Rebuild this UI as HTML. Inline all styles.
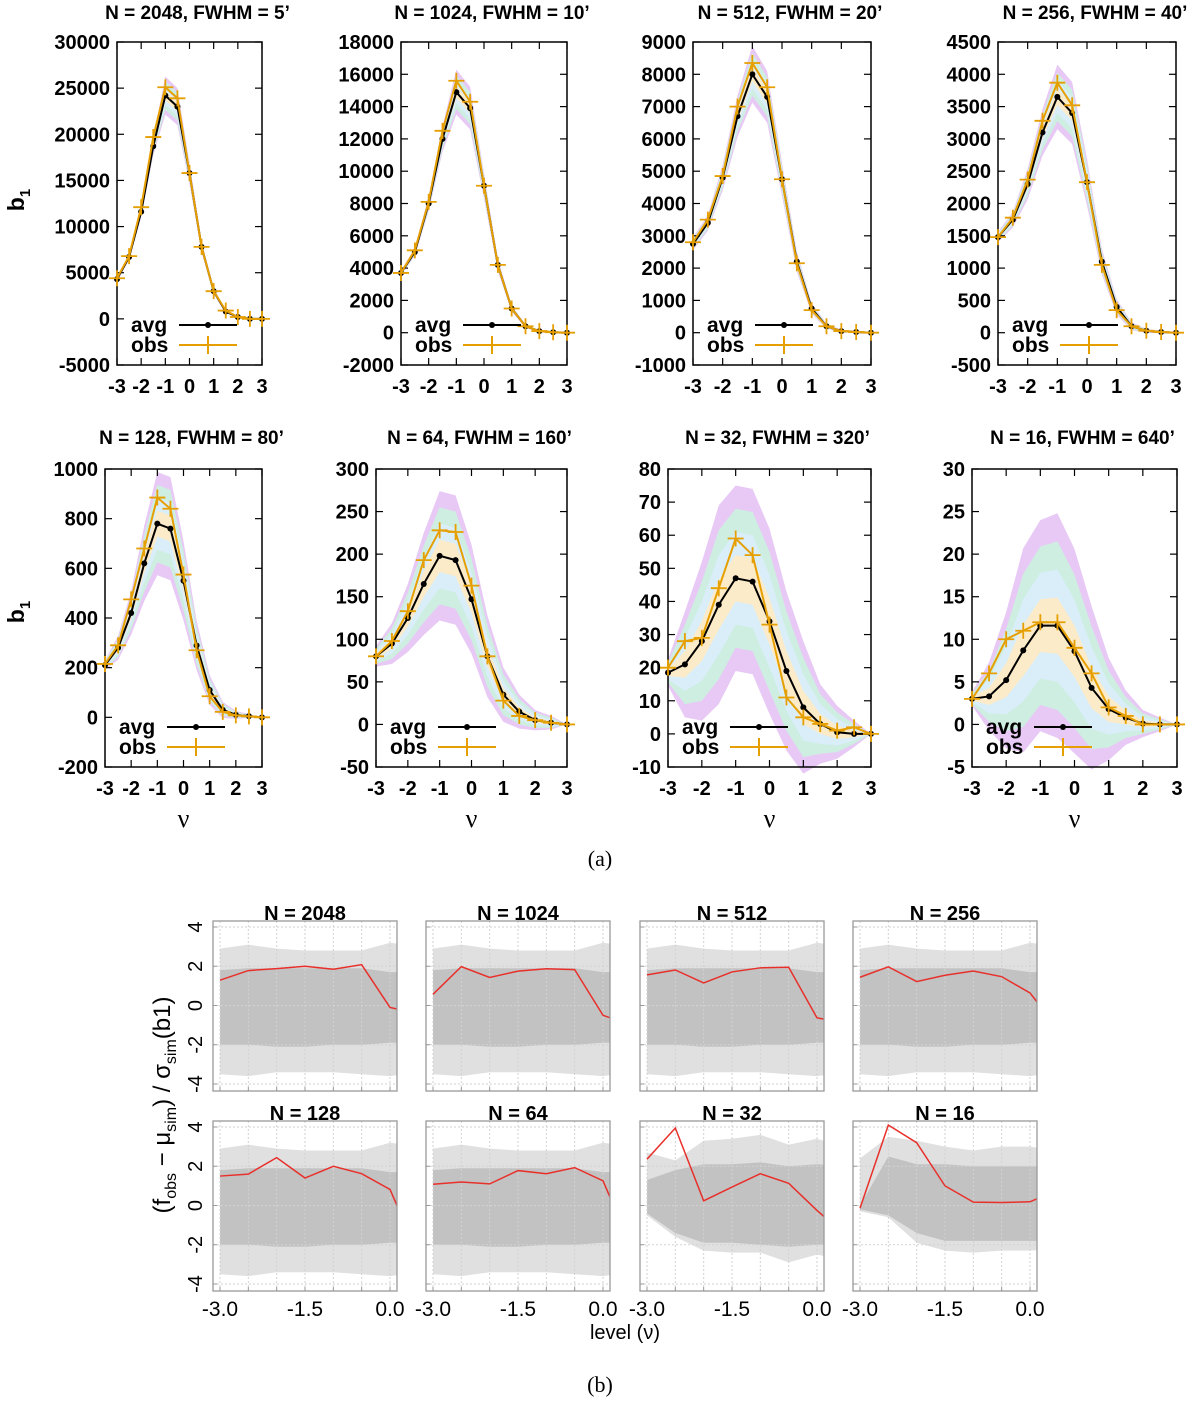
<!DOCTYPE html>
<html><head><meta charset="utf-8"><style>
html,body{margin:0;padding:0;background:#fff}
svg{display:block}
text{font-family:"Liberation Sans",sans-serif}
</style></head><body>
<svg id="fig" width="1200" height="1405" viewBox="0 0 1200 1405" xmlns="http://www.w3.org/2000/svg">
<defs id="defs"></defs>
<g id="partA"></g>
<g id="partB"></g>
<text x="600" y="866" text-anchor="middle" font-size="22" style="font-family:'Liberation Serif',serif">(a)</text>
<text x="600" y="1392" text-anchor="middle" font-size="22" style="font-family:'Liberation Serif',serif">(b)</text>
<text x="625" y="1339" text-anchor="middle" font-size="20">level (ν)</text>
<text transform="translate(170,1105) rotate(-90)" text-anchor="middle" font-size="24">(f<tspan font-size="16" dy="6">obs</tspan><tspan dy="-6"> − μ</tspan><tspan font-size="16" dy="6">sim</tspan><tspan dy="-6">) / σ</tspan><tspan font-size="16" dy="6">sim</tspan><tspan dy="-6">(b1)</tspan></text>
</svg>
<script>
// ---------- data (a) ----------
const nuLevels = [-3,-2.5,-2,-1.5,-1,-0.5,0,0.5,1,1.5,2,2.5,3];
const titlesA = ["N = 2048, FWHM = 5’","N = 1024, FWHM = 10’","N = 512, FWHM = 20’","N = 256, FWHM = 40’","N = 128, FWHM = 80’","N = 64, FWHM = 160’","N = 32, FWHM = 320’","N = 16, FWHM = 640’"];
const avg2048 = [4300,6700,11600,18700,24200,23000,15800,7800,3000,800,200,0,0];
const obs2048 = [4400,6800,12100,19700,25100,23900,15800,7800,3000,900,200,0,0];
const sig2048 = [50,80,150,250,520,500,300,150,80,40,20,10,0];
const avg1024 = [3700,5000,8000,12000,14900,13900,9100,4200,1500,400,100,30,0];
const obs1024 = [3700,5100,8100,12500,15600,14300,9100,4200,1500,400,100,30,0];
const sig1024 = [40,60,120,200,350,330,200,100,50,25,10,5,0];
const avg512 = [2750,3400,4800,6700,8000,7300,4750,2200,750,200,50,20,0];
const obs512 = [2800,3500,4850,7000,8350,7600,4750,2150,700,200,50,20,0];
const sig512 = [50,60,100,160,220,200,130,80,40,20,10,5,0];
const avg256 = [1480,1750,2300,3100,3650,3400,2330,1100,400,100,30,10,0];
const obs256 = [1480,1780,2370,3280,3870,3520,2330,1050,350,100,30,10,0];
const sig256 = [20,30,60,90,125,120,90,50,30,15,8,4,0];
const avg128 = [210,280,420,620,780,760,550,290,110,30,10,5,0];
const obs128 = [215,290,475,680,885,840,575,270,85,22,8,4,0];
const sig128 = [5,12,22,38,52,52,40,25,15,8,4,2,0];
const avg64 = [80,95,125,165,198,193,147,80,35,15,5,2,0];
const obs64 = [80,98,133,193,228,226,163,80,28,10,5,2,0];
const sig64 = [3,6,10,15,19,19,16,12,8,5,3,2,0];
const avg32 = [18.5,21,28,39,47,46,34,19,8,3,0.5,0,0];
const obs32 = [20,28,29,44,59,54,33,11,5,3,1,2,0];
const sig32 = [1,4,6,7.5,7,7,7,6,5,3,2,1,0];
const avg16 = [3,3.3,5.2,8.7,11.6,11.6,8.6,4.3,1.8,0.8,0.1,0,0];
const obs16 = [3,6,10,11,12,12,9,6,2,1,0,0,0];
const sig16 = [0.2,1,2,3,3.1,3.3,3,2.4,1.5,0.8,0.4,0.2,0];
const yMinA = [-5000,-2000,-1000,-500,-200,-50,-10,-5];
const yMaxA = [30000,18000,9000,4500,1000,300,80,30];
const yStepA = [5000,2000,1000,500,200,50,10,5];
const avgAll=[avg2048,avg1024,avg512,avg256,avg128,avg64,avg32,avg16];
const obsAll=[obs2048,obs1024,obs512,obs256,obs128,obs64,obs32,obs16];
const sigAll=[sig2048,sig1024,sig512,sig256,sig128,sig64,sig32,sig16];
// ---------- data (b) ----------
const levelsB = [-3,-2.5,-2,-1.5,-1,-0.5,0,0.5];
const titlesB = ["N = 2048","N = 1024","N = 512","N = 256","N = 128","N = 64","N = 32","N = 16"];
const red2048 = [1.29,1.78,1.88,2.0,1.85,2.08,-0.1,-0.42];
const red1024 = [0.57,1.98,1.43,1.75,1.87,1.83,-0.5,-1.0];
const red512 = [1.56,1.81,1.15,1.71,1.92,1.95,-0.63,-0.9];
const red256 = [1.44,1.97,1.22,1.54,1.76,1.47,0.64,-1.2];
const red128 = [1.5,1.6,2.44,1.4,2.0,1.62,0.82,-2.5];
const red64 = [1.08,1.2,1.1,1.78,1.62,1.93,1.26,-2.1];
const red32 = [2.36,3.95,0.24,0.94,1.62,1.13,-0.25,-1.5];
const red16 = [-0.14,4.1,3.2,1.0,0.17,0.15,0.19,0.8];
const redAll=[red2048,red1024,red512,red256,red128,red64,red32,red16];
const innerHiStd = [1.8,1.9,1.9,1.9,1.9,1.9,1.7,1.7];
const innerLoStd = [-2.0,-2.0,-2.1,-2.1,-2.0,-2.0,-1.9,-1.9];
const outerHiStd = [2.9,3.1,2.9,2.8,2.8,2.8,3.2,3.0];
const outerLoStd = [-3.5,-3.6,-3.4,-3.4,-3.4,-3.5,-3.6,-3.4];
const innerHi32 = [1.3,1.8,2.1,2.1,2.2,2.0,2.1,2.0];
const innerLo32 = [-0.4,-1.4,-1.9,-1.9,-2.0,-2.1,-2.0,-2.0];
const outerHi32 = [2.7,2.3,3.3,3.4,3.6,3.1,3.4,3.0];
const outerLo32 = [-0.5,-1.6,-2.3,-2.4,-2.4,-2.9,-2.5,-2.8];
const innerHi16 = [0.0,2.5,2.1,2.1,2.0,2.0,2.0,2.0];
const innerLo16 = [-0.2,-0.5,-1.4,-1.8,-1.8,-1.8,-1.8,-1.8];
const outerHi16 = [2.4,3.5,3.3,3.0,2.8,3.0,3.0,2.8];
const outerLo16 = [-0.3,-0.6,-1.9,-2.3,-2.4,-2.3,-2.3,-2.2];

const NS="http://www.w3.org/2000/svg";
function mk(tag,attrs,parent){const e=document.createElementNS(NS,tag);for(const k in attrs)e.setAttribute(k,attrs[k]);if(parent)parent.appendChild(e);return e;}

// ---------- draw (a) ----------
const boxX0=[117,401,693,998,105,376,668,972];
const boxX1=[262,567,871,1176,262,567,871,1177];
const rowTop=[42,469], rowBot=[365,767];
const bandCols=["#e8c9f5","#cdeee1","#daeefa","#fcebc8"];
const partA=document.getElementById('partA');
for(let p=0;p<8;p++){
  const r=p<4?0:1, x0=boxX0[p], x1=boxX1[p], yT=rowTop[r], yB=rowBot[r];
  const sx=v=>x0+(v+3)/6*(x1-x0);
  const sy=v=>yB-(v-yMinA[p])/(yMaxA[p]-yMinA[p])*(yB-yT);
  const g=mk('g',{},partA);
  
  
  const t=mk('text',{x:(x0+x1)/2+8,y:r?444:19,'text-anchor':'middle','font-size':19,'font-weight':'bold'},g);
  t.textContent=titlesA[p];
  
  
  const a=avgAll[p], s=sigAll[p], o=obsAll[p];
  for(let k=4;k>=1;k--){
    let d='';
    nuLevels.forEach((v,i)=>{d+=(i?'L':'M')+sx(v)+','+sy(a[i]+k*s[i]);});
    for(let i=nuLevels.length-1;i>=0;i--) d+='L'+sx(nuLevels[i])+','+sy(a[i]-k*s[i]);
    const b=mk('path',{d:d+'Z',fill:bandCols[4-k],stroke:'none'},g);
    
    
  }
  mk('rect',{x:x0,y:yT,width:x1-x0,height:yB-yT,fill:'none',stroke:'#000','stroke-width':1.5},g);
  for(let v=yMinA[p];v<=yMaxA[p]+1e-9;v+=yStepA[p]){
    const y=sy(v);
    mk('line',{x1:x0,x2:x0+7,y1:y,y2:y,stroke:'#000','stroke-width':1.2},g);
    mk('line',{x1:x1-7,x2:x1,y1:y,y2:y,stroke:'#000','stroke-width':1.2},g);
    const tl=mk('text',{x:x0-7,y:y+7,'text-anchor':'end','font-size':20,'font-weight':'bold'},g);
    tl.textContent=v;
    
    
  }
  for(let v=-3;v<=3;v++){
    const x=sx(v);
    mk('line',{x1:x,x2:x,y1:yB,y2:yB-7,stroke:'#000','stroke-width':1.2},g);
    mk('line',{x1:x,x2:x,y1:yT,y2:yT+7,stroke:'#000','stroke-width':1.2},g);
    const tl=mk('text',{x:x,y:yB+28,'text-anchor':'middle','font-size':20,'font-weight':'bold'},g);
    tl.textContent=v;
    
    
  }
  const line=(arr)=>nuLevels.map((v,i)=>(i?'L':'M')+sx(v)+','+sy(arr[i])).join('');
  const la=mk('path',{d:line(a),fill:'none',stroke:'#000','stroke-width':2},g);
  
  
  nuLevels.forEach((v,i)=>{const c=mk('circle',{cx:sx(v),cy:sy(a[i]),r:3,fill:'#000'},g);
    
    });
  const lo=mk('path',{d:line(o),fill:'none',stroke:'#e69f00','stroke-width':2},g);
  
  
  nuLevels.forEach((v,i)=>{const X=sx(v),Y=sy(o[i]);
    const m=mk('path',{d:`M${X-8},${Y}H${X+8}M${X},${Y-8}V${Y+8}`,stroke:'#e69f00','stroke-width':1.8},g);
    
    });
  // legend
  const lg=mk('g',{},g);
  
  
  const ly1=yB-40, ly2=yB-20;
  const t1=mk('text',{x:x0+14,y:ly1+7,'font-size':21,'font-weight':'bold'},lg); t1.textContent='avg';
  
  
  mk('line',{x1:x0+62,x2:x0+120,y1:ly1,y2:ly1,stroke:'#000','stroke-width':2},lg);
  mk('circle',{cx:x0+91,cy:ly1,r:3,fill:'#000'},lg);
  const t2=mk('text',{x:x0+14,y:ly2+7,'font-size':21,'font-weight':'bold'},lg); t2.textContent='obs';
  
  
  mk('line',{x1:x0+62,x2:x0+120,y1:ly2,y2:ly2,stroke:'#e69f00','stroke-width':2},lg);
  mk('path',{d:`M${x0+91},${ly2-9}V${ly2+9}`,stroke:'#e69f00','stroke-width':2},lg);
  if(r==1){
    const nu=mk('text',{x:(x0+x1)/2,y:827,'text-anchor':'middle','font-size':26,style:"font-family:'Liberation Serif',serif"},g);
    nu.textContent='ν';
    
    
  }
  if(p%4==0){
    const cy=r?612:200;
    const yl=mk('text',{transform:`translate(24,${cy}) rotate(-90)`,'text-anchor':'middle','font-size':23,'font-weight':'bold'},g);
    yl.innerHTML='b<tspan font-size="15" dy="6">1</tspan>';
    
    
  }
}

// ---------- draw (b) ----------
const colL=[213,426,640,853], rowTopB=[921,1121];
const W=184,H=170;
const partB=document.getElementById('partB');
const defs=document.getElementById('defs');
for(let p=0;p<8;p++){
  const c=p%4, r=p<4?0:1, L=colL[c], T=rowTopB[r];
  const sx=v=>L+7+(v+3)/3*170;
  const sy=v=>T+6+(4-v)/8*157;
  const cp=mk('clipPath',{id:'cb'+p},defs);
  mk('rect',{x:L,y:T,width:W,height:H},cp);
  const g=mk('g',{},partB);
  
  
  const inner=mk('g',{'clip-path':'url(#cb'+p+')'},g);
  let iH=innerHiStd,iL=innerLoStd,oH=outerHiStd,oL=outerLoStd;
  if(p==6){iH=innerHi32;iL=innerLo32;oH=outerHi32;oL=outerLo32;}
  if(p==7){iH=innerHi16;iL=innerLo16;oH=outerHi16;oL=outerLo16;}
  const band=(hi,lo,col,nm)=>{let d='';levelsB.forEach((v,i)=>d+=(i?'L':'M')+sx(v)+','+sy(hi[i]));
    for(let i=levelsB.length-1;i>=0;i--)d+='L'+sx(levelsB[i])+','+sy(lo[i]);
    const e=mk('path',{d:d+'Z',fill:col},inner);
    
    };
  band(oH,oL,'#e0e0e0','sim-envelope-outer');
  band(iH,iL,'#c2c2c2','sim-envelope-inner');
  for(let v=-3;v<=0.01;v+=0.5) mk('line',{x1:sx(v),x2:sx(v),y1:T,y2:T+H,stroke:'#d2d2d2','stroke-dasharray':'2,2','stroke-width':1},inner);
  for(let v=-4;v<=4;v+=2) mk('line',{x1:L,x2:L+W,y1:sy(v),y2:sy(v),stroke:'#d2d2d2','stroke-dasharray':'2,2','stroke-width':1},inner);
  const rl=mk('path',{d:levelsB.map((v,i)=>(i?'L':'M')+sx(v)+','+sy(redAll[p][i])).join(''),fill:'none',stroke:'#e8302b','stroke-width':1.5},inner);
  
  
  mk('rect',{x:L,y:T,width:W,height:H,fill:'none',stroke:'#999','stroke-width':1.3},g);
  for(let v=-3;v<=0.01;v+=0.5) mk('line',{x1:sx(v),x2:sx(v),y1:T+H,y2:T+H-4,stroke:'#999'},g);
  for(let v=-4;v<=4;v+=2) mk('line',{x1:L,x2:L+4,y1:sy(v),y2:sy(v),stroke:'#999'},g);
  const tt=mk('text',{x:L+W/2,y:T-1,'text-anchor':'middle','font-size':20,'font-weight':'bold'},g);
  tt.textContent=titlesB[p];
  
  
  if(r==1){
    [-3,-1.5,0].forEach(v=>{const tl=mk('text',{x:sx(v),y:1316,'text-anchor':'middle','font-size':21},g);
      tl.textContent=v.toFixed(1);
      
      });
  }
  if(c==0){
    [-4,-2,0,2,4].forEach(v=>{const tl=mk('text',{transform:`translate(${L-11},${sy(v)}) rotate(-90)`,'text-anchor':'middle','font-size':20},g);
      tl.textContent=v;
      
      });
  }
}
</script>
</body></html>
